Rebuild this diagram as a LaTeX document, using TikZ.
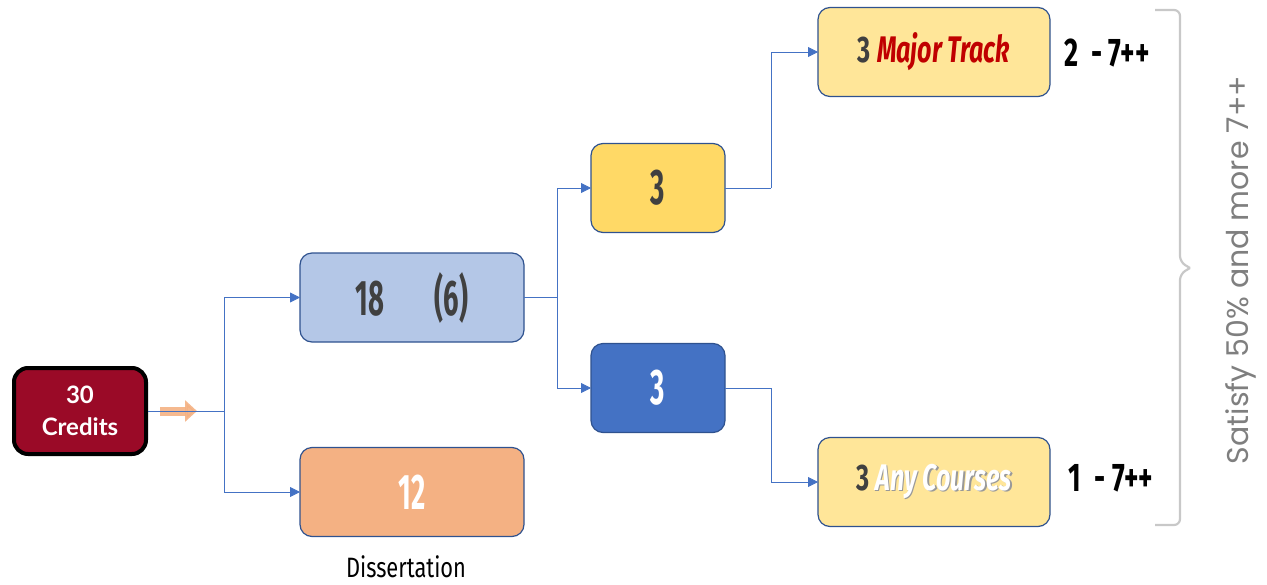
\documentclass[tikz,border=0pt]{standalone}
\usepackage{fontspec}
\setmainfont{Lato}
\newfontfamily\agency[FakeStretch=0.55]{Fira Sans}
\newfontfamily\agencywide[FakeStretch=0.68]{Fira Sans}
\newfontfamily\agencyreg[FakeStretch=0.78]{Fira Sans}
\newfontfamily\poppins{Poppins}
\usetikzlibrary{arrows.meta}
\definecolor{credred}{HTML}{9A0A27}
\definecolor{lightblue}{HTML}{B4C7E7}
\definecolor{edgeblue}{HTML}{2F528F}
\definecolor{linkblue}{HTML}{4472C4}
\definecolor{orangebox}{HTML}{F4B183}
\definecolor{yellowbox}{HTML}{FFD966}
\definecolor{paleyellow}{HTML}{FFE699}
\definecolor{darktext}{HTML}{404040}
\definecolor{majorred}{HTML}{C00000}
\definecolor{bracegray}{HTML}{C8C8C8}
\definecolor{textgray}{HTML}{7F7F7F}
\newcommand\shad[2]{\leavevmode\rlap{\raisebox{-1.6pt}{\hspace{1.6pt}\textcolor{black!40}{#2}}}\textcolor{#1}{#2}}
\begin{document}
\begin{tikzpicture}[x=1pt,y=-1pt,
  box/.style={draw=edgeblue, line width=1.2pt, rounded corners=12pt,
    minimum height=89pt, inner sep=0pt, outer sep=0pt},
  conn/.style={draw=linkblue, line width=0.8pt},
  link/.style={conn, -{Triangle[length=10pt,width=10pt]}},
  fatarrow/.style={draw=orangebox, opacity=0.9, line width=9pt,
    -{Triangle[length=12pt,width=21pt]}},
  bignum/.style={font=\agency\bfseries\fontsize{50}{50}\selectfont, text=darktext},
  midtext/.style={font=\agencywide\bfseries\fontsize{37}{37}\selectfont},
  sidetext/.style={font=\agencywide\bfseries\fontsize{40}{40}\selectfont, text=black, inner sep=0pt}
]
\useasboundingbox (0,0) rectangle (1267,584);

% nodes
\node[draw=black, line width=4pt, fill=credred, rounded corners=14pt,
  minimum width=132pt, minimum height=86pt, inner sep=0pt, align=center,
  text=white, font=\bfseries\fontsize{24}{32}\selectfont]
  (credits) at (80,411) {30\\Credits};
\node[box, fill=lightblue, minimum width=224pt, bignum]
  (b18) at (412,297.5) {18\hspace{50pt}(6)};
\node[box, fill=orangebox, minimum width=224pt, bignum, text=white]
  (b12) at (412,492) {12};
\node[font=\agencyreg\fontsize{28}{28}\selectfont, text=black, inner sep=1pt]
  (diss) at (406,567) {Dissertation};
\node[box, fill=yellowbox, minimum width=134pt, bignum]
  (y3) at (658,188) {3};
\node[box, fill=linkblue, minimum width=134pt, bignum, text=white]
  (b3) at (658,388) {3};
\node[box, fill=paleyellow, minimum width=232pt, midtext, text=darktext]
  (major) at (934,52) {3 \textcolor{majorred}{\itshape Major Track}};
\node[box, fill=paleyellow, minimum width=232pt, midtext, text=darktext]
  (any) at (934,482) {3 \shad{white}{\itshape Any Courses}};
\node[sidetext] (t2) at (1107,53) {2\ \,- 7++};
\node[sidetext] (t1) at (1111,478) {1 \,- 7++};
\node[rotate=90, font=\poppins\fontsize{30}{30}\selectfont, text=textgray]
  (sat) at (1241,270) {Satisfy 50\% and more 7++};

% junctions
\coordinate (j1) at (224,411);
\coordinate (j2) at (557,297.5);
\coordinate (j3) at (771,188);
\coordinate (j4) at (771,388);

% connectors
\draw[fatarrow] ([xshift=12pt]credits.east) -- ([xshift=49pt]credits.east);
\draw[conn] (credits.east) -- (j1);
\draw[link] (j1) |- (b18);
\draw[link] (j1) |- (b12);
\draw[conn] (b18.east) -- (j2);
\draw[link] (j2) |- (y3);
\draw[link] (j2) |- (b3);
\draw[conn] (y3.east) -- (j3);
\draw[link] (j3) |- (major);
\draw[conn] (b3.east) -- (j4);
\draw[link] (j4) |- (any);

% brace
\coordinate (bt) at (1155,10);
\coordinate (bb) at (1155,525);
\draw[bracegray, line width=2.2pt, rounded corners=6pt]
  (bt) -- (1180,10) -- (1180,262) -- (1190,268);
\draw[bracegray, line width=2.2pt, rounded corners=6pt]
  (bb) -- (1180,525) -- (1180,274) -- (1190,268);
\end{tikzpicture}
\end{document}
